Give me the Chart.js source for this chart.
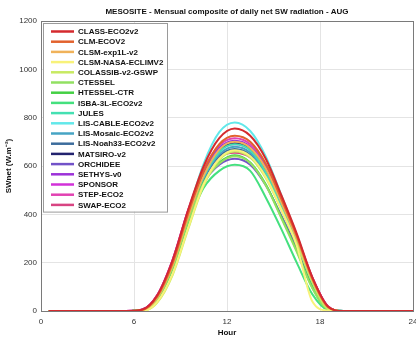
<!DOCTYPE html>
<html>
<head>
<meta charset="utf-8">
<script src="https://cdn.jsdelivr.net/npm/chart.js@4.4.1/dist/chart.umd.min.js"></script>
<style>
  html, body { margin: 0; padding: 0; background: #fff; }
  #wrap { width: 416px; height: 338px; position: relative; }
</style>
</head>
<body>
<div id="wrap"><canvas id="c" width="416" height="338"></canvas></div>
<script>
// Hour of day (mid-hour stamps, closing at midnight)
const hours = [0.5,1.5,2.5,3.5,4.5,5.5,6.5,7.5,8.5,9.5,10.5,11.5,12.5,13.5,14.5,15.5,16.5,17.5,18.5,19.5,20.5,21.5,22.5,23.5,24];

// Net SW radiation per model (W.m-2)
const classEco2v2 = [0,0,0,0,0,0,5,65,212,420,600,715,755,725,630,480,320,140,20,0,0,0,0,0,0];
const clmEcov2    = [0,0,0,0,0,0,4,60,200,405,580,690,725,700,610,465,310,135,18,0,0,0,0,0,0];
const clsmExp1L   = [0,0,0,0,0,0,3,55,190,390,560,668,700,675,590,450,300,130,16,0,0,0,0,0,0];
const clsmNasa    = [0,0,0,0,0,0,0,38,155,345,525,630,665,640,555,420,270,40,2,0,0,0,0,0,0];
const colassib    = [0,0,0,0,0,0,0,35,150,340,520,625,660,635,550,420,280,120,10,0,0,0,0,0,0];
const ctessel     = [0,0,0,0,0,0,3,50,180,375,530,610,640,612,520,385,245,95,8,0,0,0,0,0,0];
const htessel     = [0,0,0,0,0,0,3,50,180,375,532,614,645,615,525,390,250,98,8,0,0,0,0,0,0];
const isba3L      = [0,0,0,0,0,0,3,48,175,365,510,580,605,580,470,340,200,70,5,0,0,0,0,0,0];
const jules       = [0,0,0,0,0,0,3,55,190,390,555,658,690,665,575,435,285,120,12,0,0,0,0,0,0];
const lisCable    = [0,0,0,0,0,0,4,60,200,410,610,740,780,745,640,480,315,135,15,0,0,0,0,0,0];
const lisMosaic   = [0,0,0,0,0,0,3,55,188,388,550,648,680,655,568,430,282,118,12,0,0,0,0,0,0];
const lisNoah33   = [0,0,0,0,0,0,3,54,186,385,545,640,670,645,560,425,280,118,12,0,0,0,0,0,0];
const matsiro     = [0,0,0,0,0,0,3,56,192,392,560,662,695,668,580,440,292,125,14,0,0,0,0,0,0];
const orchidee    = [0,0,0,0,0,0,3,52,182,378,530,605,630,605,520,395,260,108,10,0,0,0,0,0,0];
const sethys      = [0,0,0,0,0,0,5,62,205,410,575,675,705,680,595,455,305,135,18,0,0,0,0,0,0];
const sponsor     = [0,0,0,0,0,0,5,65,212,418,575,665,690,668,590,452,305,138,20,0,0,0,0,0,0];
const stepEco2    = [0,0,0,0,0,0,5,66,214,420,585,685,715,690,605,462,312,140,20,0,0,0,0,0,0];
const swapEco2    = [0,0,0,0,0,0,5,65,210,412,565,638,655,635,565,440,300,138,20,0,0,0,0,0,0];

const modelNames = ['CLASS-ECO2v2','CLM-ECOV2','CLSM-exp1L-v2','CLSM-NASA-ECLIMV2','COLASSIB-v2-GSWP',
  'CTESSEL','HTESSEL-CTR','ISBA-3L-ECO2v2','JULES','LIS-CABLE-ECO2v2','LIS-Mosaic-ECO2v2',
  'LIS-Noah33-ECO2v2','MATSIRO-v2','ORCHIDEE','SETHYS-v0','SPONSOR','STEP-ECO2','SWAP-ECO2'];
const modelValues = [classEco2v2, clmEcov2, clsmExp1L, clsmNasa, colassib, ctessel, htessel, isba3L,
  jules, lisCable, lisMosaic, lisNoah33, matsiro, orchidee, sethys, sponsor, stepEco2, swapEco2];
const modelColors = ['#d42a2e','#e2622e','#f0b25a','#f8f27a','#c8ea62','#92e062','#44d044','#44e07e',
  '#44e0b2','#62e8ea','#46a4c4','#3c6c9c','#22226e','#7252c8','#9c32d8','#d232d8','#e242b2','#d84482'];

const xTicks = [0, 6, 12, 18, 24];
const yTicks = [0, 200, 400, 600, 800, 1000, 1200];

const datasets = modelNames.map((name, i) => ({
  label: name,
  data: hours.map((h, j) => ({ x: h, y: modelValues[i][j] })),
  borderColor: modelColors[i],
  backgroundColor: modelColors[i],
  borderWidth: 2,
  pointRadius: 0,
  cubicInterpolationMode: 'monotone',
  fill: false
}));

const FONT = '"Liberation Sans", Arial, sans-serif';

// Frame around the plot area
const frame = {
  id: 'frame',
  afterDraw(chart) {
    const { ctx, chartArea: a } = chart;
    ctx.save();
    ctx.strokeStyle = '#7a7a7a';
    ctx.lineWidth = 1;
    ctx.strokeRect(Math.round(a.left) + 0.5, Math.round(a.top) + 0.5,
      Math.round(a.right - a.left), Math.round(a.bottom - a.top));
    ctx.restore();
  }
};

// Boxed legend in the top-left corner of the plot area
const innerLegend = {
  id: 'innerLegend',
  afterDatasetsDraw(chart) {
    const { ctx, chartArea: a } = chart;
    const ds = chart.data.datasets;
    const x0 = a.left + 2, y0 = a.top + 2;
    const w = 124, rowH = 10.2, h = ds.length * rowH + 5;
    ctx.save();
    ctx.fillStyle = '#ffffff';
    ctx.fillRect(x0, y0, w, h);
    ctx.strokeStyle = '#9a9a9a';
    ctx.lineWidth = 1;
    ctx.strokeRect(Math.round(x0) + 0.5, Math.round(y0) + 0.5, w, h);
    ctx.font = 'bold 8px ' + FONT;
    ctx.textBaseline = 'middle';
    ds.forEach((d, i) => {
      const y = y0 + 8.5 + i * rowH;
      ctx.strokeStyle = d.borderColor;
      ctx.lineWidth = 2.5;
      ctx.beginPath();
      ctx.moveTo(x0 + 8, y);
      ctx.lineTo(x0 + 31, y);
      ctx.stroke();
      ctx.fillStyle = '#111';
      ctx.fillText(d.label, x0 + 35, y + 0.5);
    });
    ctx.restore();
  }
};

new Chart(document.getElementById('c'), {
  type: 'line',
  data: { datasets },
  plugins: [frame, innerLegend],
  options: {
    responsive: false,
    animation: false,
    layout: { padding: { left: 0, right: 3, top: 0, bottom: 0 } },
    plugins: {
      legend: { display: false },
      tooltip: { enabled: false },
      title: {
        display: true,
        fullSize: false,
        text: 'MESOSITE - Mensual composite of daily net SW radiation - AUG',
        color: '#111',
        font: { family: FONT, size: 8, weight: 'bold' },
        padding: { top: 7, bottom: 4.4 }
      }
    },
    scales: {
      x: {
        type: 'linear',
        min: 0, max: 24,
        afterBuildTicks(s) { s.ticks = xTicks.map(v => ({ value: v })); },
        afterFit(s) { s.height = 27; s.paddingRight = 0; s.paddingLeft = 0; },
        grid: { color: '#e4e4e4', drawTicks: false },
        border: { color: '#7a7a7a' },
        ticks: { color: '#333', font: { family: FONT, size: 8 }, padding: 6, maxRotation: 0 },
        title: { display: true, text: 'Hour', color: '#111', font: { family: FONT, size: 8, weight: 'bold' }, padding: { top: 0, bottom: 0 } }
      },
      y: {
        min: 0, max: 1200,
        afterBuildTicks(s) { s.ticks = yTicks.map(v => ({ value: v })); },
        afterFit(s) { s.width = 41; s.paddingTop = 0; s.paddingBottom = 0; },
        grid: { color: '#e4e4e4', drawTicks: false },
        border: { color: '#7a7a7a' },
        ticks: { color: '#333', font: { family: FONT, size: 8 }, padding: 4, callback: v => String(v) },
        title: { display: true, text: 'SWnet (W.m\u207B\u00B2)', color: '#111', font: { family: FONT, size: 8, weight: 'bold' }, padding: { top: 4, bottom: 0 } }
      }
    }
  }
});
</script>
</body>
</html>
